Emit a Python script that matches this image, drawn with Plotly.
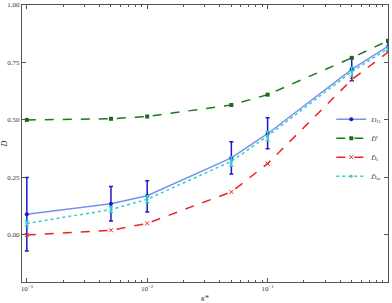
import plotly.graph_objects as go

kappa = [0.001, 0.005, 0.01, 0.05, 0.1, 0.5, 1.0]
d11 = [0.09, 0.135, 0.17, 0.335, 0.44, 0.72, 0.82]
d11_hi = [0.25, 0.21, 0.235, 0.405, 0.51, 0.77, 0.84]
d11_lo = [-0.07, 0.06, 0.10, 0.265, 0.375, 0.67, 0.80]
dr = [0.50, 0.505, 0.515, 0.565, 0.61, 0.77, 0.845]
ds = [0.0, 0.02, 0.05, 0.187, 0.31, 0.675, 0.795]
dss = [0.05, 0.11, 0.155, 0.32, 0.43, 0.71, 0.81]
dss_err = [0.01, 0.012, 0.015, 0.02, 0.02, 0.02, 0.01]

xtick_vals = [0.001, 0.01, 0.1, 1.0]
xtick_text = ["10<sup>−3</sup>", "10<sup>−2</sup>", "10<sup>−1</sup>", "10<sup>0</sup>"]
ytick_vals = [0.0, 0.25, 0.5, 0.75, 1.0]
ytick_text = ["0.00", "0.25", "0.50", "0.75", "1.00"]
minor_vals = [m * d for d in (0.001, 0.01, 0.1) for m in range(2, 10)]

font_family = "Liberation Serif, DejaVu Serif, serif"

fig = go.Figure()
fig.add_trace(go.Scatter(
    x=kappa, y=d11, mode="lines+markers", name="<i>D</i><sub>11</sub>",
    line=dict(color="rgba(60,100,230,0.7)", width=1.5),
    marker=dict(color="#1a1acc", size=4, symbol="circle"),
    error_y=dict(type="data", symmetric=False,
                 array=[h - v for h, v in zip(d11_hi, d11)],
                 arrayminus=[v - l for v, l in zip(d11, d11_lo)],
                 color="#1a1acc", thickness=1.5, width=2),
))
fig.add_trace(go.Scatter(
    x=kappa, y=dr, mode="lines+markers", name="<i>D̄</i><sup>r</sup>",
    line=dict(color="#1a7a1a", width=1.5, dash="dash"),
    marker=dict(color="#1a6a1a", size=4, symbol="square"),
))
fig.add_trace(go.Scatter(
    x=kappa, y=ds, mode="lines+markers", name="<i>D̄</i><sub>s</sub>",
    line=dict(color="#ee2222", width=1.5, dash="dash"),
    marker=dict(color="#ee2222", size=4, symbol="x-thin", line=dict(color="#ee2222", width=1)),
))
fig.add_trace(go.Scatter(
    x=kappa, y=dss, mode="lines+markers", name="<i>D̄</i><sub>ss</sub>",
    line=dict(color="#33cccc", width=1.5, dash="dot"),
    marker=dict(color="#33cccc", size=3, symbol="circle"),
    error_y=dict(type="data", array=dss_err, color="#33cccc", thickness=1.5, width=2),
))

axis_common = dict(
    showline=True, linecolor="#555555", linewidth=1, mirror="ticks",
    ticks="inside", ticklen=4, tickcolor="#555555", showgrid=False, zeroline=False,
    tickfont=dict(family=font_family, size=7, color="#333333"),
    automargin=False,
)

fig.update_layout(
    width=392, height=303,
    margin=dict(l=22, r=4, t=5, b=21),
    paper_bgcolor="white", plot_bgcolor="white",
    font=dict(family=font_family, size=8, color="#333333"),
    xaxis=dict(type="log", range=[-3.04, 0], tickvals=xtick_vals, ticktext=xtick_text,
               minor=dict(ticks="inside", ticklen=2, tickcolor="#555555", tickvals=minor_vals),
               title=dict(text="<i>κ</i>*", font=dict(size=8), standoff=2), **axis_common),
    yaxis=dict(range=[-0.205, 1.0], tickvals=ytick_vals, ticktext=ytick_text,
               title=dict(text="<i>D</i>", font=dict(size=8), standoff=4), **axis_common),
    legend=dict(x=0.845, y=0.64, xanchor="left", yanchor="top",
                bgcolor="rgba(0,0,0,0)", font=dict(size=7), tracegroupgap=0,
                itemwidth=30),
    showlegend=True,
)

fig.write_html("out.html")
